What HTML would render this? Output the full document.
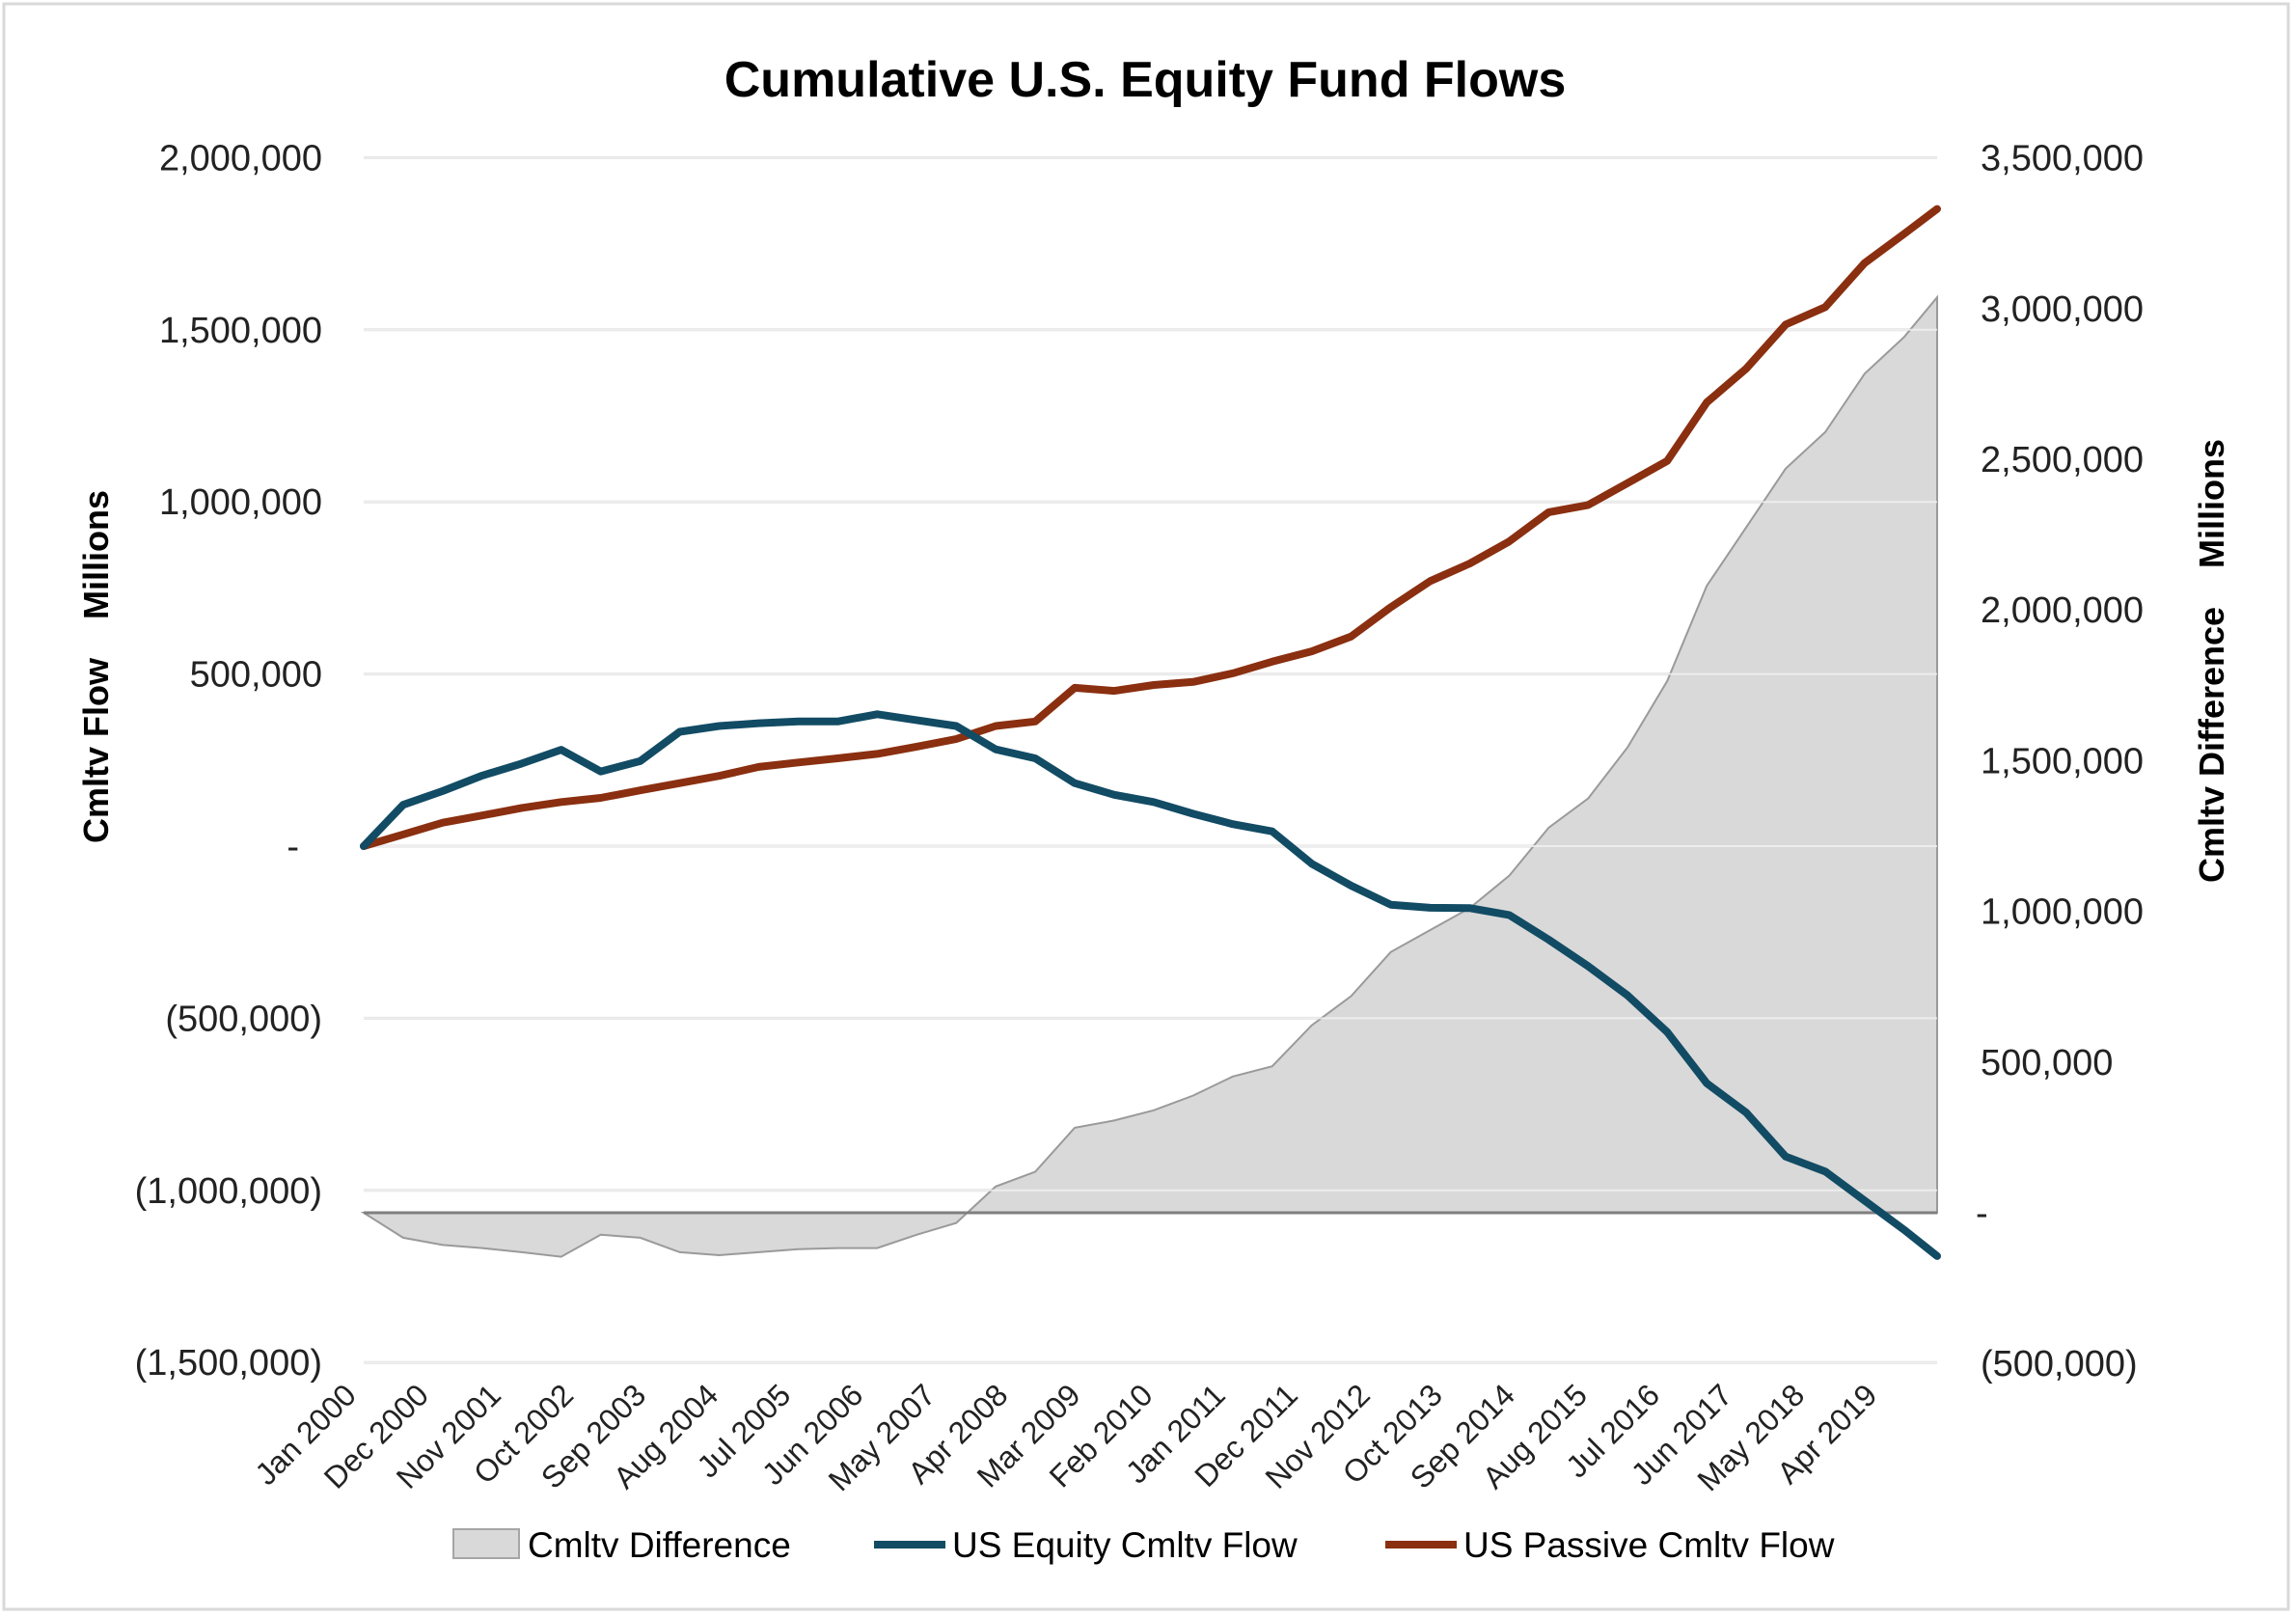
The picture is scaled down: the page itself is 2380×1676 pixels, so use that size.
<!DOCTYPE html>
<html><head><meta charset="utf-8"><style>
html,body{margin:0;padding:0;background:#fff;}
svg{display:block;font-family:"Liberation Sans",Arial,sans-serif;}
</style></head><body>
<svg id="chart" width="2380" height="1676" viewBox="0 0 2380 1676" xmlns="http://www.w3.org/2000/svg">
<rect x="4" y="4" width="2368" height="1664" fill="#fff" stroke="#d9d9d9" stroke-width="3"/>
<text x="1187" y="100" text-anchor="middle" font-size="52" font-weight="bold" fill="#000">Cumulative U.S. Equity Fund Flows</text>
<g id="grid"></g>
<g id="area"></g>
<g id="grid2"></g>
<g id="lines"></g>
<g id="yl"></g>
<g id="yr"></g>
<g id="xl"></g>
<text transform="translate(112,691) rotate(-90)" text-anchor="middle" font-size="36" font-weight="bold" fill="#000" xml:space="preserve">Cmltv Flow    Millions</text>
<text transform="translate(2305,685) rotate(-90)" text-anchor="middle" font-size="36" font-weight="bold" fill="#000" xml:space="preserve">Cmltv Difference    Millions</text>
<g>
  <g>
    <rect x="470" y="1585" width="68" height="30" fill="#d9d9d9" stroke="#a6a6a6" stroke-width="2"/>
    <text x="547" y="1614" font-size="37" fill="#000">Cmltv Difference</text>
  </g>
  <g>
    <line x1="906" y1="1601" x2="980" y2="1601" stroke="#124b64" stroke-width="8"/>
    <text x="987" y="1614" font-size="37" fill="#000">US Equity Cmltv Flow</text>
  </g>
  <g>
    <line x1="1436" y1="1601" x2="1510" y2="1601" stroke="#8a2f10" stroke-width="8"/>
    <text x="1517" y="1614" font-size="37" fill="#000">US Passive Cmltv Flow</text>
  </g>
</g>
</svg>
<script>
const sampleMonths = [0,6,12,18,24,30,36,42,48,54,60,66,72,78,84,90,96,102,108,114,120,126,132,138,144,150,156,162,168,174,180,186,192,198,204,210,216,222,228,234,239];
const equityFlow = [0,120000,160000,205000,240000,280000,217000,247000,332000,349000,357000,362000,362000,383000,366000,349000,281000,255000,183000,149000,128000,94000,64000,43000,-51000,-115000,-170000,-179000,-180000,-200000,-272000,-349000,-434000,-540000,-689000,-774000,-902000,-945000,-1030000,-1115000,-1191000];
const passiveFlow = [0,34000,68000,89000,111000,128000,140000,162000,183000,204000,230000,243000,255000,268000,289000,311000,349000,362000,460000,451000,468000,477000,502000,536000,566000,609000,694000,770000,821000,885000,970000,991000,1055000,1119000,1289000,1387000,1515000,1566000,1694000,1779000,1851000];
const cmltvDifference = [0,-83000,-107000,-117000,-131000,-146000,-73000,-83000,-131000,-141000,-131000,-121000,-117000,-117000,-73000,-34000,87000,136000,282000,306000,340000,389000,452000,486000,622000,719000,865000,938000,1011000,1118000,1278000,1375000,1545000,1764000,2080000,2274000,2469000,2590000,2784000,2906000,3037000];
const leftTicks = [2000000,1500000,1000000,500000,0,-500000,-1000000,-1500000];
const leftTickLabels = ["2,000,000","1,500,000","1,000,000","500,000","-","(500,000)","(1,000,000)","(1,500,000)"];
const rightTicks = [3500000,3000000,2500000,2000000,1500000,1000000,500000,0,-500000];
const rightTickLabels = ["3,500,000","3,000,000","2,500,000","2,000,000","1,500,000","1,000,000","500,000","-","(500,000)"];
const xTickMonths = [0,11,22,33,44,55,66,77,88,99,110,121,132,143,154,165,176,187,198,209,220,231];
const xTickLabels = ["Jan 2000","Dec 2000","Nov 2001","Oct 2002","Sep 2003","Aug 2004","Jul 2005","Jun 2006","May 2007","Apr 2008","Mar 2009","Feb 2010","Jan 2011","Dec 2011","Nov 2012","Oct 2013","Sep 2014","Aug 2015","Jul 2016","Jun 2017","May 2018","Apr 2019"];

const NS="http://www.w3.org/2000/svg";
const X0=377,X1=2008,TOTAL=239;
const xs=m=>X0+(X1-X0)*m/TOTAL;
const yL=v=>877-v/500000*178.4;
const yR=v=>1257-v/500000*156.2;
function mk(tag,parent){const e=document.createElementNS(NS,tag);document.getElementById(parent).appendChild(e);return e;}

leftTicks.forEach((t,i)=>{
  const g=mk('line','grid');
  
  
  g.setAttribute('x1',X0);g.setAttribute('x2',X1);g.setAttribute('y1',yL(t));g.setAttribute('y2',yL(t));
  g.setAttribute('stroke','#dedede');g.setAttribute('stroke-width','3');
  const g2=mk('line','grid2');
  
  
  g2.setAttribute('x1',X0);g2.setAttribute('x2',X1);g2.setAttribute('y1',yL(t));g2.setAttribute('y2',yL(t));
  g2.setAttribute('stroke','#f2f2f2');g2.setAttribute('stroke-width','2');g2.setAttribute('opacity','0.8');
  const tx=mk('text','yl');
  
  
  tx.setAttribute('x', t===0?310:334);tx.setAttribute('y',yL(t)+13);
  tx.setAttribute('text-anchor','end');tx.setAttribute('font-size','38');tx.setAttribute('fill','#222');
  tx.textContent=leftTickLabels[i];
});
rightTicks.forEach((t,i)=>{
  const tx=mk('text','yr');
  
  
  tx.setAttribute('x', t===0?2048:2053);tx.setAttribute('y',yR(t)+13);
  tx.setAttribute('font-size','38');tx.setAttribute('fill','#222');
  tx.textContent=rightTickLabels[i];
});
// area
let d='M'+xs(sampleMonths[0])+','+yR(0);
sampleMonths.forEach((m,i)=>{d+=' L'+xs(m).toFixed(1)+','+yR(cmltvDifference[i]).toFixed(1);});
d+=' L'+xs(sampleMonths[sampleMonths.length-1])+','+yR(0)+' Z';
const ar=mk('path','area');


ar.setAttribute('d',d);ar.setAttribute('fill','#d9d9d9');ar.setAttribute('stroke','#9a9a9a');ar.setAttribute('stroke-width','2');
const bl=mk('line','area');


bl.setAttribute('x1',X0);bl.setAttribute('x2',X1);bl.setAttribute('y1',yR(0));bl.setAttribute('y2',yR(0));
bl.setAttribute('stroke','#7f7f7f');bl.setAttribute('stroke-width','3');
function line(vals,color,name){
  const p=mk('path','lines');
  
  
  p.setAttribute('d',sampleMonths.map((m,i)=>(i?'L':'M')+xs(m).toFixed(1)+','+yL(vals[i]).toFixed(1)).join(' '));
  p.setAttribute('fill','none');p.setAttribute('stroke',color);p.setAttribute('stroke-width','8');
  p.setAttribute('stroke-linejoin','round');p.setAttribute('stroke-linecap','round');
}
line(passiveFlow,'#8a2f10','us-passive-cmltv-flow-line');
line(equityFlow,'#124b64','us-equity-cmltv-flow-line');
xTickMonths.forEach((m,i)=>{
  const tx=mk('text','xl');
  
  
  const x=xs(m)-6,y=1448;
  tx.setAttribute('transform','translate('+x.toFixed(1)+','+y+') rotate(-45)');
  tx.setAttribute('text-anchor','end');tx.setAttribute('font-size','32');tx.setAttribute('fill','#222');
  tx.textContent=xTickLabels[i];
});
</script>
</body></html>
